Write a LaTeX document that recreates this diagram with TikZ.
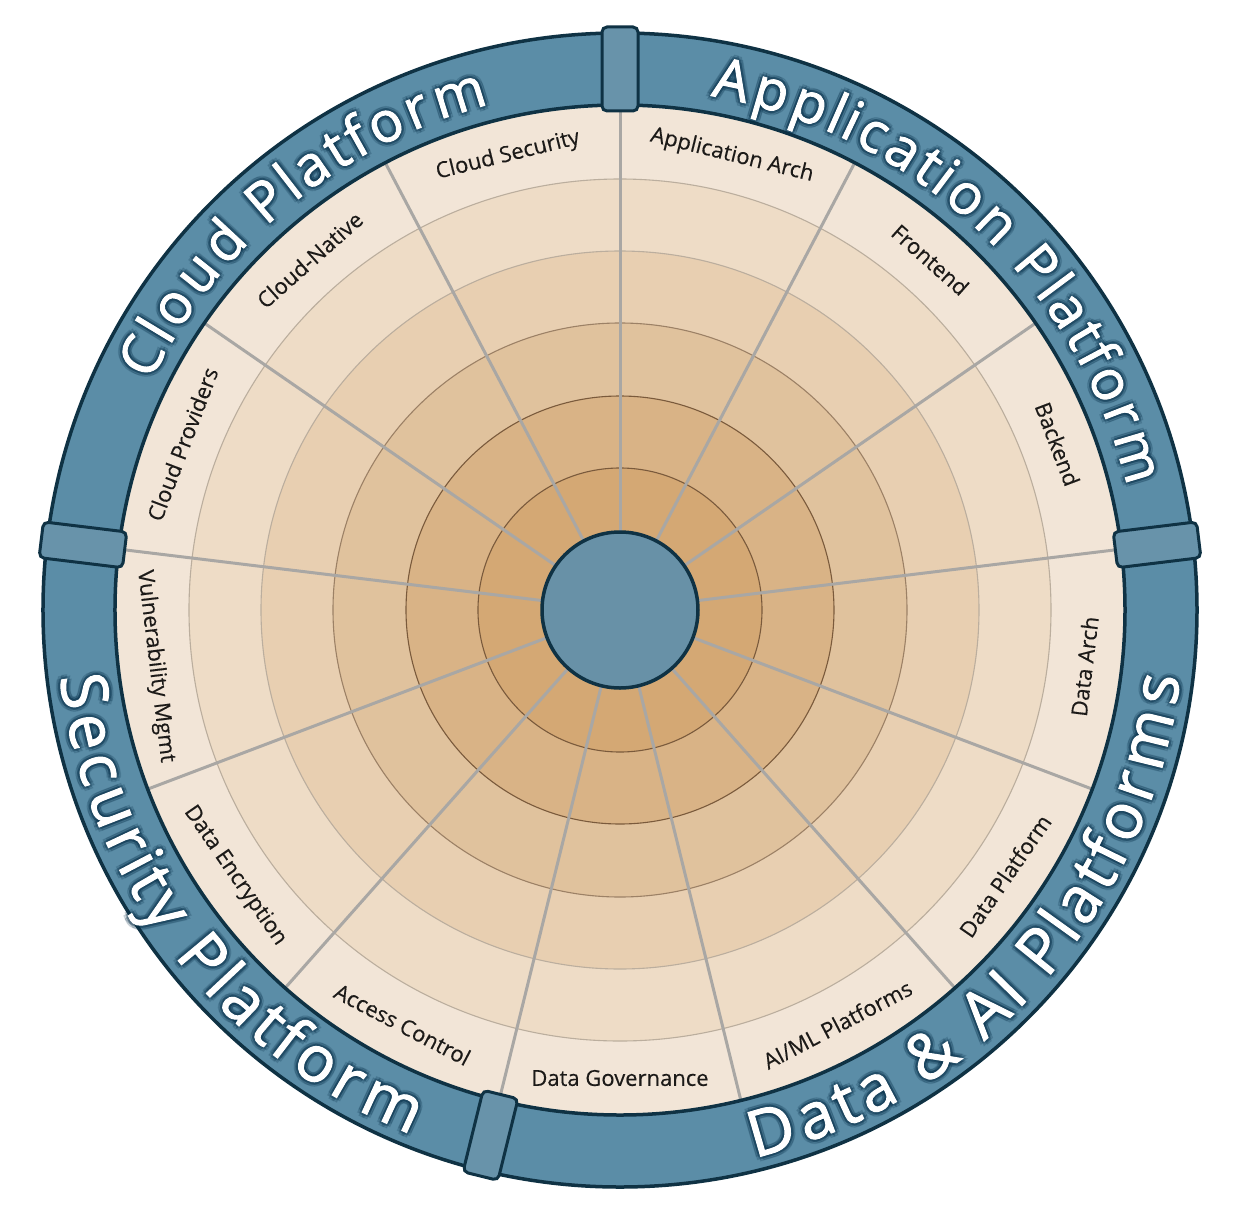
\documentclass[tikz,border=0pt]{standalone}
\usepackage{fontspec}
\setmainfont{Open Sans}
\newfontfamily\ringfont[FakeBold=1.6]{Open Sans}
\newfontfamily\secfont[FakeBold=0.3]{Open Sans}
\usetikzlibrary{decorations.text}
\definecolor{ringblue}{HTML}{5B8DA7}
\definecolor{ringdark}{HTML}{0F3244}
\definecolor{tabblue}{HTML}{6893AA}
\definecolor{centerblue}{HTML}{6891A7}
\definecolor{spokegray}{HTML}{A9A7A4}
\definecolor{halo}{HTML}{08304A}
\definecolor{bandA}{HTML}{F2E5D7}
\definecolor{bandB}{HTML}{EEDCC6}
\definecolor{bandC}{HTML}{E8CFB1}
\definecolor{bandD}{HTML}{E0C29D}
\definecolor{bandE}{HTML}{D9B386}
\definecolor{bandF}{HTML}{D4A874}
\definecolor{lineA}{HTML}{BBAE9E}
\definecolor{lineB}{HTML}{9C8166}
\definecolor{lineC}{HTML}{7A5A3C}
\definecolor{labeltext}{HTML}{1C1A18}
\tikzset{
  spoke/.style={draw=spokegray, line width=3},
  ringline/.style={ringdark, line width=3.5},
  seclabel/.style={font=\secfont\fontsize{22}{24}\selectfont, text=labeltext, inner sep=0pt},
  tabbox/.style={draw=ringdark, fill=tabblue, line width=3, rounded corners=5, minimum width=36, minimum height=84, inner sep=0pt},
}
% #1 start angle, #2 end angle, #3 radius, #4 font size, #5 text
\newcommand\RingText[5]{%
  \begin{scope}[opacity=0.14]
    \foreach \hx/\hy in {2.5/0,-2.5/0,0/2.5,0/-2.5,1.8/1.8,-1.8/1.8,1.8/-1.8,-1.8/-1.8,4.5/0,-4.5/0,0/4.5,0/-4.5,3.2/3.2,-3.2/3.2,3.2/-3.2,-3.2/-3.2}{
      \path[shift={(\hx,\hy)}, decorate, decoration={text effects along path, text={#5}, text effects/.cd, text along path, fit text to path, characters={text=halo, font=\ringfont\fontsize{#4}{#4}\selectfont}}] (#1:#3) arc[start angle=#1, end angle=#2, radius=#3];
    }
  \end{scope}
  \path[decorate, decoration={text effects along path, text={#5}, text effects/.cd, text along path, fit text to path, characters={text=white, font=\ringfont\fontsize{#4}{#4}\selectfont}}] (#1:#3) arc[start angle=#1, end angle=#2, radius=#3];
}
\begin{document}
\begin{tikzpicture}[x=1pt, y=1pt]
\useasboundingbox[fill=white] (-620,-609) rectangle (629,610);
% bands
\fill[bandA] (0,0) circle[radius=505];
\fill[bandB] (0,0) circle[radius=431];
\fill[bandC] (0,0) circle[radius=359];
\fill[bandD] (0,0) circle[radius=287];
\fill[bandE] (0,0) circle[radius=214];
\fill[bandF] (0,0) circle[radius=142];
\draw[lineA, line width=1.1] (0,0) circle[radius=431];
\draw[lineA, line width=1.1] (0,0) circle[radius=359];
\draw[lineB, line width=1.1] (0,0) circle[radius=287];
\draw[lineC, line width=1.1] (0,0) circle[radius=214];
\draw[lineC, line width=1.1] (0,0) circle[radius=142];
% spokes
\foreach \k in {0,...,12}{
  \draw[spoke] ({90-\k*27.6923}:78) -- ({90-\k*27.6923}:505);
}
% hub
\node[circle, fill=centerblue, draw=ringdark, line width=3.5, minimum size=156, inner sep=0pt] (hub) at (0,0) {};
% outer ring
\fill[ringblue, even odd rule] (0,0) circle[radius=577] (0,0) circle[radius=505];
\draw[ringline] (0,0) circle[radius=577];
\draw[ringline] (0,0) circle[radius=505];
% tabs
\foreach \i/\a in {1/90, 2/6.923, 3/-103.846, 4/173.077}{
  \node[tabbox, rotate=\a-90] (tab\i) at (\a:541) {};
}
% sector labels
\foreach \i/\m/\r/\t in {
  1/76.15/-13.85/{Application Arch},
  2/48.46/-41.54/{Frontend},
  3/20.77/-69.23/{Backend},
  4/-6.92/83.08/{Data Arch},
  5/-34.62/55.38/{Data Platform},
  6/-62.31/27.69/{AI/ML Platforms},
  7/-90/0/{Data Governance},
  8/-117.69/-27.69/{Access Control},
  9/-145.38/-55.38/{Data Encryption},
  10/-173.08/-83.08/{Vulnerability Mgmt},
  11/159.23/69.23/{Cloud Providers},
  12/131.54/41.54/{Cloud-Native},
  13/103.85/13.85/{Cloud Security}}{
  \node[seclabel, rotate=\r] (sec\i) at (\m:468) {\t};
}
% ring labels
\RingText{154}{104.5}{522}{56}{Cloud Platform}
\RingText{80}{13.7}{522}{56}{Application Platform}
\RingText{186.8}{248.3}{564}{64}{Security Platform}
\RingText{-76.2}{-6.8}{564}{64}{Data {\&} AI Platforms}
\end{tikzpicture}
\end{document}
